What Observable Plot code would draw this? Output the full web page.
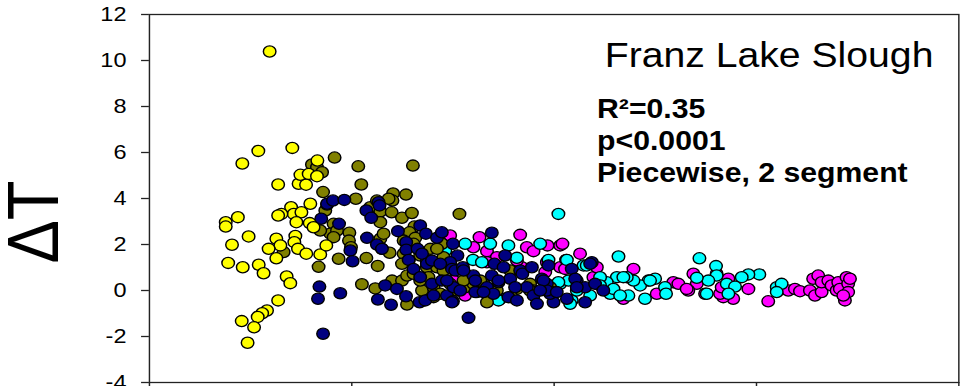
<!DOCTYPE html>
<html><head><meta charset="utf-8">
<script src="https://cdn.jsdelivr.net/npm/d3@7"></script>
<script src="https://cdn.jsdelivr.net/npm/@observablehq/plot@0.6"></script>
<style>html,body{margin:0;padding:0;background:#fff;overflow:hidden}</style>
</head><body><div id="chart"></div>
<script>
const seriesNames = ["Magenta","Cyan","Olive","Navy","Yellow"];
const seriesColors = ["#ff00ff","#00ffff","#808000","#000080","#ffff00"];

const yellowPts = [[5.94,10.39],[4.59,5.52],[5.38,6.07],[7.06,6.2],[8.30,5.65],[6.36,4.61],[7.37,4.64],[7.74,4.6],[7.46,5.03],[7.87,5.07],[8.28,4.97],[7.95,3.77],[7.0,3.62],[7.13,3.33],[7.51,3.4],[6.52,3.33],[6.36,3.26],[7.26,2.97],[7.92,2.93],[8.11,2.75],[4.90,2.35],[4.08,1.99],[6.27,2.25],[6.47,1.96],[5.89,1.81],[7.21,2.37],[7.16,2.1],[7.34,1.81],[7.75,1.6],[6.27,1.4],[5.40,1.12],[5.64,0.75],[4.61,1.01],[3.89,1.2],[6.78,0.61],[6.96,0.32],[6.36,-0.43],[5.81,-0.87],[5.57,-0.99],[5.35,-1.15],[4.56,-1.33],[5.17,-1.6],[4.85,-2.27],[3.77,2.97],[3.77,2.78],[4.37,3.19],[8.44,1.57],[8.74,1.96]];

const olivePts = [[9.15,5.78],[10.32,5.40],[13.02,5.43],[10.47,4.61],[8.03,5.48],[8.28,5.36],[8.53,5.14],[8.58,4.28],[10.20,3.99],[12.04,4.22],[12.01,3.91],[12.68,4.17],[11.82,3.99],[10.91,3.62],[11.41,3.43],[11.97,3.40],[12.48,3.16],[12.97,3.37],[15.32,3.33],[8.69,3.48],[8.78,3.74],[9.10,2.90],[8.94,2.47],[9.27,2.61],[9.10,2.32],[8.44,2.61],[9.88,2.51],[9.86,2.17],[9.96,1.88],[9.35,1.38],[8.36,1.03],[10.72,1.41],[11.28,1.07],[11.41,2.25],[11.49,1.81],[11.87,1.64],[11.41,2.97],[11.57,2.47],[10.50,0.27],[11.16,0.09],[11.99,0.43],[12.48,0.43],[12.73,0.65],[12.73,-0.61],[6.63,1.67],[13.09,2.78],[12.85,2.53],[13.14,2.29],[12.56,2.17],[12.56,1.60],[12.81,1.30],[13.88,1.81],[13.71,1.01],[14.04,-0.29],[16.68,-0.51],[15.60,0.14],[18.16,0.07],[18.81,0.29],[13.47,0.00],[14.86,0.29],[15.20,0.00],[16.01,0.29],[12.48,1.16],[13.05,2.03],[13.38,1.52],[13.71,1.30],[14.21,1.01],[13.05,0.73],[13.38,0.43],[13.79,0.58],[14.04,0.14],[14.37,-0.14],[14.45,2.03],[14.53,1.45],[14.86,1.16],[16.51,0.29],[17.83,0.87],[18.98,0.00],[19.80,0.14],[17.91,-0.29],[19.64,0.00],[19.89,-0.07],[11.24,3.91],[14.21,1.81],[14.53,0.87],[15.52,0.43],[16.35,0.43],[17.17,0.00],[18.81,0.00]];

const navyPts = [[8.58,-1.88],[8.49,3.12],[8.78,3.77],[9.07,3.91],[9.63,3.94],[9.37,2.90],[8.40,0.17],[8.33,-0.36],[9.43,-0.12],[9.93,1.74],[10.04,1.27],[10.72,3.48],[10.96,3.16],[11.32,3.84],[11.37,3.70],[10.75,2.29],[11.24,2.00],[11.49,1.81],[11.65,0.22],[12.23,0.07],[11.94,-0.62],[11.29,-0.39],[12.28,2.58],[12.69,2.10],[12.69,1.77],[12.81,1.33],[13.05,0.94],[13.38,0.58],[12.68,-0.25],[13.35,-0.51],[13.63,-0.43],[14.04,-0.22],[13.38,2.83],[13.66,2.47],[14.21,2.29],[14.45,2.53],[13.25,1.81],[13.47,1.60],[13.71,1.16],[13.96,1.30],[13.96,0.29],[14.45,0.43],[14.70,-0.22],[15.00,-0.47],[15.03,0.14],[15.00,2.03],[15.22,1.52],[14.86,1.23],[14.95,0.94],[15.11,0.87],[15.49,1.01],[16.01,0.65],[16.18,-0.07],[15.77,-1.19],[16.92,2.51],[17.58,1.52],[17.05,1.16],[17.50,1.01],[16.92,0.65],[17.25,0.36],[16.68,0.14],[17.83,0.51],[18.32,0.87],[18.43,0.73],[18.90,1.01],[17.00,-0.14],[17.74,-0.29],[18.16,-0.43],[18.65,0.14],[18.98,-0.22],[19.15,-0.58],[19.39,0.51],[19.64,0.29],[19.97,-0.51],[19.80,-0.14],[19.72,1.09],[20.87,0.94],[21.86,1.23],[21.12,0.43],[21.53,0.14],[22.02,0.29],[22.43,0.00],[21.53,-0.51],[20.63,-0.36],[16.10,-0.07],[15.52,0.87],[14.95,-0.51],[21.78,1.16],[21.04,0.51],[19.64,0.00],[19.47,0.43],[14.37,1.16],[14.70,0.43],[15.36,0.00],[16.10,0.43],[16.51,-0.07],[17.25,0.43],[18.07,0.14],[19.31,0.00],[20.13,-0.07],[21.12,0.14]];

const magentaPts = [[14.86,2.39],[16.31,2.32],[18.32,2.42],[18.65,1.88],[18.98,1.71],[19.67,1.96],[16.01,1.88],[16.68,1.71],[17.17,1.45],[15.60,-0.22],[20.30,1.96],[20.30,1.01],[19.64,1.23],[19.56,0.80],[14.37,1.01],[18.40,1.01],[20.41,2.03],[21.28,1.60],[20.59,1.33],[20.54,0.94],[18.16,1.30],[16.68,1.23],[15.03,0.43],[21.94,0.58],[23.92,0.94],[25.89,0.36],[26.14,0.29],[26.88,0.73],[27.05,0.29],[28.03,0.73],[28.44,-0.22],[28.85,-0.36],[28.36,-0.29],[25.07,-0.14],[26.63,0.00],[22.11,1.01],[23.42,-0.36],[26.55,0.07],[27.46,-0.14],[28.20,-0.14],[29.60,0.07],[28.28,0.14],[28.61,0.51],[30.58,-0.47],[31.08,0.00],[31.57,0.00],[31.90,0.07],[32.15,-0.03],[32.64,0.00],[32.89,-0.22],[33.22,-0.07],[32.80,0.51],[33.05,0.65],[33.22,0.36],[33.55,0.43],[33.71,0.22],[33.96,0.00],[34.04,0.36],[34.12,0.07],[34.37,-0.43],[34.45,0.58],[34.53,0.29],[34.53,-0.07],[34.29,-0.22],[34.62,0.51]];

const cyanPts = [[20.21,3.33],[23.18,1.48],[27.18,1.40],[28.00,1.06],[30.14,0.70],[29.60,0.70],[29.27,0.58],[28.53,0.29],[28.94,0.17],[28.61,-0.14],[28.03,0.65],[27.62,0.43],[27.05,0.55],[27.54,-0.14],[25.48,0.14],[24.99,0.51],[24.66,0.43],[24.25,0.22],[23.92,0.43],[23.59,0.58],[23.10,0.58],[23.67,-0.22],[24.49,-0.36],[25.53,-0.14],[22.60,0.36],[22.77,-0.14],[22.27,0.58],[21.45,1.09],[20.63,1.33],[19.72,1.33],[20.87,-0.43],[20.30,0.29],[31.00,0.14],[31.24,0.29],[31.00,-0.07],[15.60,2.03],[16.84,2.03],[17.74,1.96],[15.99,1.33],[16.43,1.23],[18.16,1.42],[19.31,2.03],[21.61,1.09],[20.71,0.43],[20.21,0.36],[21.12,0.00],[21.78,-0.22],[22.27,0.22],[22.93,0.07],[23.42,0.58],[24.74,0.43],[23.26,-0.22],[20.79,-0.58],[17.33,-0.36],[14.62,1.74],[17.25,-0.43]];

const yTicks = [-4,-2,0,2,4,6,8,10,12];
const xTicks = [0,10,20,30,40];
const titleText = "Franz Lake Slough";
const statsLines = ["R²=0.35","p<0.0001","Piecewise, 2 segment"];
const yLabel = "ΔT";

const W = 862, H = 386;
const data = [magentaPts, cyanPts, olivePts, navyPts, yellowPts]
  .flatMap((pts, i) => pts.map(([x, y]) => ({x, y, s: seriesNames[i]})));

const plot = Plot.plot({
  width: W, height: H,
  marginLeft: 133, marginRight: 6, marginTop: 14, marginBottom: 4,
  style: {fontFamily: "'Liberation Sans', Arial, sans-serif", fontSize: "21px", color: "#000", background: "#fff", overflow: "visible"},
  x: {domain: [0, 40]},
  y: {domain: [-4, 12]},
  color: {domain: seriesNames, range: seriesColors},
  marks: [
    Plot.frame({stroke: "#222", strokeWidth: 1.3}),
    Plot.axisY({ticks: yTicks, tickSize: 7, tickPadding: 13.5, tickFormat: d => String(d), label: null, fontSize: 21, stroke: "#222", strokeWidth: 1.3}),
    Plot.axisX({ticks: xTicks, tickSize: 6, tickFormat: () => "", label: null, stroke: "#222", strokeWidth: 1.3}),
    Plot.dot(data, {x: "x", y: "y", fill: "s", stroke: "#000", strokeWidth: 1.3, r: 5.6}),
    Plot.text([titleText], {x: 22.5, y: 9.70, text: d => d, textAnchor: "start", lineAnchor: "bottom", fontSize: 35, fill: "#000"}),
    Plot.text([statsLines.join("\n")], {x: 22.12, y: 4.70, text: d => d, textAnchor: "start", lineAnchor: "bottom", fontSize: 27, fontWeight: "bold", lineHeight: 1.185, fill: "#000"}),
    Plot.text([yLabel], {frameAnchor: "left", text: d => d, rotate: -90, fontSize: 65, dx: -102.6, dy: 23.5, textAnchor: "middle", lineAnchor: "middle", fill: "#000"})
  ]
});

const svg = plot.tagName.toLowerCase() === "svg" ? plot : plot.querySelector("svg");
svg.setAttribute("width", 965);
svg.setAttribute("height", 386);
svg.setAttribute("preserveAspectRatio", "none");
svg.style.width = "965px";
svg.style.height = "386px";
svg.style.maxWidth = "none";
svg.style.display = "block";
document.getElementById("chart").appendChild(plot);
</script>
</body></html>
